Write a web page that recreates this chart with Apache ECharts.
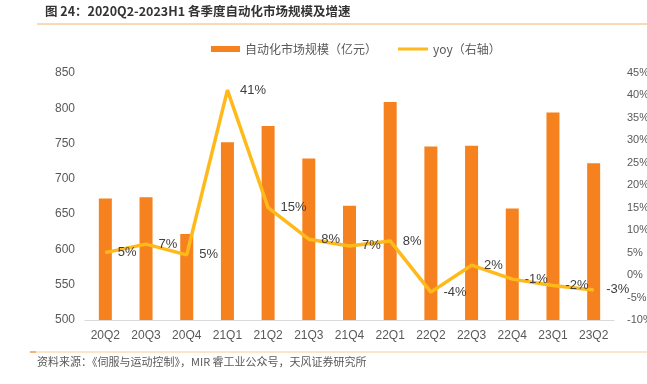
<!DOCTYPE html>
<html><head><meta charset="utf-8">
<script src="https://cdn.jsdelivr.net/npm/echarts@6/dist/echarts.min.js"></script>
<style>html,body{margin:0;padding:0;background:#fff}#c{width:647px;height:384px}</style>
</head><body><div id="c"></div>
<script>
const categories = ['20Q2','20Q3','20Q4','21Q1','21Q2','21Q3','21Q4','22Q1','22Q2','22Q3','22Q4','23Q1','23Q2'];
const marketSize = [672, 674, 622, 752, 775, 729, 662, 809, 746, 747, 658, 794, 722];
const yoy = [5, 6.9, 4.5, 41.2, 15, 8, 6.5, 7.6, -3.8, 2.2, -0.9, -2.3, -3.3];
const yoyLabels = ['5%','7%','5%','41%','15%','8%','7%','8%','-4%','2%','-1%','-2%','-3%'];
const leftTicks = {min: 500, max: 850, interval: 50};
const rightTicks = {min: -10, max: 45, interval: 5};
const barName = '自动化市场规模（亿元）';
const lineName = 'yoy（右轴）';

const FONT = '"Liberation Sans","Noto Sans CJK SC",sans-serif';
const chart = echarts.init(document.getElementById('c'));
chart.setOption({
  animation: false,
  textStyle: {fontFamily: FONT},
  grid: {left: 85, right: 33, top: 73, bottom: 64, outerBoundsMode: 'none', containLabel: false},
  legend: [
    {data: [{name: barName, icon: 'rect'}], left: 206, top: 38, itemWidth: 29, itemHeight: 6, itemGap: 5,
     textStyle: {color: '#595959', fontSize: 12, fontFamily: '"Noto Sans CJK SC",sans-serif'}},
    {data: [{name: lineName, icon: 'rect'}], left: 393, top: 38, itemWidth: 30, itemHeight: 3, itemGap: 5,
     textStyle: {color: '#595959', fontSize: 12, fontFamily: '"Noto Sans CJK SC",sans-serif'}}
  ],
  xAxis: {
    type: 'category', data: categories,
    axisLine: {onZero: false, lineStyle: {color: '#d9d9d9'}},
    axisTick: {show: false},
    axisLabel: {color: '#595959', fontSize: 12, margin: 10}
  },
  yAxis: [
    {type: 'value', min: leftTicks.min, max: leftTicks.max, interval: leftTicks.interval,
     splitLine: {show: false}, axisLine: {show: false}, axisTick: {show: false},
     axisLabel: {color: '#595959', fontSize: 12, margin: 10}},
    {type: 'value', min: rightTicks.min, max: rightTicks.max, interval: rightTicks.interval,
     splitLine: {show: false}, axisLine: {show: false}, axisTick: {show: false},
     axisLabel: {color: '#595959', fontSize: 11, margin: 13, formatter: '{value}%'}}
  ],
  series: [
    {name: barName, type: 'bar', data: marketSize, barWidth: 13,
     itemStyle: {color: '#F5821F'}},
    {name: lineName, type: 'line', yAxisIndex: 1, data: yoy, symbol: 'circle', symbolSize: 1, showSymbol: true,
     lineStyle: {color: '#FFB91A', width: 3.5}, itemStyle: {color: '#FFB91A'},
     label: {show: true, position: 'right', distance: 12, color: '#404040', fontSize: 13,
       formatter: p => yoyLabels[p.dataIndex]}}
  ],
  graphic: [
    {type: 'text', left: 45, top: 5, style: {text: '图 24：2020Q2-2023H1 各季度自动化市场规模及增速',
      fill: '#333', font: 'bold 12.5px "Noto Sans CJK SC", sans-serif'}},
    {type: 'line', shape: {x1: 37, y1: 24, x2: 647, y2: 24}, style: {stroke: '#F6B26B', lineWidth: 1}},
    {type: 'line', shape: {x1: 30, y1: 352, x2: 647, y2: 352}, style: {stroke: '#F9CB9C', lineWidth: 1}},
    {type: 'line', shape: {x1: 30, y1: 352, x2: 36, y2: 352}, style: {stroke: '#F5A05A', lineWidth: 1.5}},
    {type: 'text', left: 37, top: 356, style: {text: '资料来源：《伺服与运动控制》，MIR 睿工业公众号，天风证券研究所',
      fill: '#595959', font: '11px "Noto Sans CJK SC", sans-serif'}}
  ]
});
</script></body></html>
